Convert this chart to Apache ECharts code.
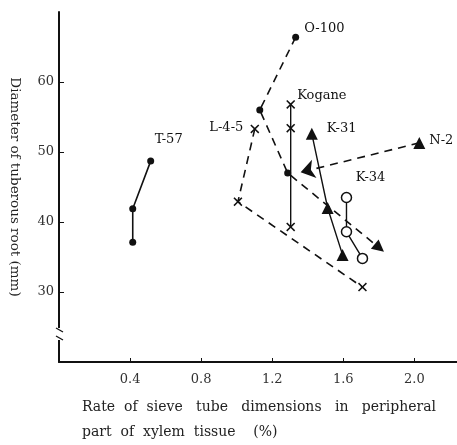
<!DOCTYPE html>
<html>
<head>
<meta charset="utf-8">
<script src="https://cdn.jsdelivr.net/npm/echarts@6/dist/echarts.min.js"></script>
<style>
html,body{margin:0;padding:0;background:#fff;}
#c{width:457px;height:445px;}
</style>
</head>
<body>
<div id="c"></div>
<script>
// ---- data (x: rate %, y: diameter mm) ----
const xTicks = [0.4, 0.8, 1.2, 1.6, 2.0];
const yTicks = [30, 40, 50, 60];
const t57    = [[0.415, 37.1], [0.415, 41.9], [0.516, 48.7]];
const o100   = [[1.332, 66.4], [1.130, 56.0], [1.287, 47.0], [1.803, 36.3]];
const kogane = [[1.304, 39.3], [1.304, 53.4], [1.304, 56.8]];
const l45    = [[1.102, 53.3], [1.007, 42.9], [1.708, 30.7]];
const k31    = [[1.423, 52.6], [1.512, 42.0], [1.596, 35.3]];
const k34    = [[1.618, 43.5], [1.618, 38.6], [1.708, 34.8]];
const n2     = [[2.028, 51.3], [1.360, 47.1]];

const FONT = 'DejaVu Serif';
const INK = '#111';
const XMARK = 'path://M0,1.2L1.2,0L5,3.8L8.8,0L10,1.2L6.2,5L10,8.8L8.8,10L5,6.2L1.2,10L0,8.8L3.8,5Z';
const lbl = (text, extra) => Object.assign({show: true, formatter: text, color: INK, fontFamily: FONT, fontSize: 13}, extra);

function pts(arr, opts) {
  return arr.map((p, i) => {
    const o = {value: p};
    if (opts && opts[i]) Object.assign(o, opts[i]);
    return o;
  });
}

const base = {type: 'line', symbolKeepAspect: true, animation: false, z: 3,
  itemStyle: {color: INK}, emphasis: {disabled: true}};

const chart = echarts.init(document.getElementById('c'));
chart.setOption({
  animation: false,
  grid: {left: 59, right: 0, top: 12, bottom: 83, containLabel: false, outerBoundsMode: 'none'},
  xAxis: {
    type: 'value', min: 0, max: 2.24, interval: 0.4,
    splitLine: {show: false},
    axisLine: {lineStyle: {color: INK, width: 2}},
    axisTick: {show: true, inside: true, length: 4, customValues: xTicks, lineStyle: {color: INK}},
    axisLabel: {customValues: xTicks, margin: 11, color: '#333', fontFamily: FONT, fontSize: 13,
      formatter: v => v.toFixed(1)}
  },
  yAxis: {
    type: 'value', min: 20, max: 70, interval: 10,
    splitLine: {show: false},
    axisLine: {lineStyle: {color: INK, width: 2}},
    axisTick: {show: true, inside: true, length: 5, customValues: yTicks, lineStyle: {color: INK}},
    axisLabel: {customValues: yTicks, margin: 5, color: '#333', fontFamily: FONT, fontSize: 13},
    name: 'Diameter of tuberous root (mm)', nameLocation: 'middle', nameRotate: -90, nameGap: 38,
    nameTextStyle: {fontFamily: FONT, fontSize: 13.5, color: '#222'}
  },
  series: [
    Object.assign({}, base, {name: 'T-57', data: pts(t57, {2: {label: lbl('T-57', {position: 'top', offset: [18, -6]})}}),
      symbol: 'circle', symbolSize: 7, lineStyle: {color: INK, width: 1.6}}),
    Object.assign({}, base, {name: 'O-100', data: pts(o100, {
        0: {label: lbl('O-100', {position: 'right', distance: 5, offset: [0, -9]})},
        3: {symbol: 'triangle', symbolSize: 12, symbolRotate: -130}}),
      symbol: 'circle', symbolSize: 7, lineStyle: {color: INK, width: 1.6, type: [8, 6]}}),
    Object.assign({}, base, {name: 'Kogane', data: pts(kogane, {2: {label: lbl('Kogane', {position: 'right', distance: 2, offset: [0, -9]})}}),
      symbol: XMARK, symbolSize: 9, lineStyle: {color: INK, width: 1.4}}),
    Object.assign({}, base, {name: 'L-4-5', data: pts(l45, {0: {label: lbl('L-4-5', {position: 'left', distance: 7, offset: [0, -1]})}}),
      symbol: XMARK, symbolSize: 9, lineStyle: {color: INK, width: 1.6, type: [8, 6]}}),
    Object.assign({}, base, {name: 'K-31', data: pts(k31, {0: {label: lbl('K-31', {position: 'right', distance: 9, offset: [0, -5]})}}),
      symbol: 'triangle', symbolSize: 12, lineStyle: {color: INK, width: 1.4}}),
    Object.assign({}, base, {name: 'K-34', data: pts(k34, {0: {label: lbl('K-34', {position: 'top', distance: 8, offset: [24, 0]})}}),
      symbol: 'circle', symbolSize: 10, itemStyle: {color: '#fff', borderColor: INK, borderWidth: 1.5},
      lineStyle: {color: INK, width: 1.4}}),
    Object.assign({}, base, {name: 'N-2', data: pts(n2, {
        0: {label: lbl('N-2', {position: 'right', distance: 4, offset: [0, -2]})},
        1: {symbol: 'arrow', symbolSize: 14, symbolRotate: 104}}),
      symbol: 'triangle', symbolSize: 12, lineStyle: {color: INK, width: 1.6, type: [8, 6]}})
  ]
});

// axis break mark and x-axis title
const bp = chart.convertToPixel({gridIndex: 0}, [0, 24]);
const x0 = bp[0], y0 = bp[1];
chart.setOption({
  graphic: [
    {type: 'rect', shape: {x: x0 - 4, y: y0 - 6, width: 8, height: 12}, style: {fill: '#fff'}, z: 10},
    {type: 'line', shape: {x1: x0 - 3, y1: y0 - 6, x2: x0 + 4, y2: y0 - 2}, style: {stroke: INK, lineWidth: 1.3}, z: 11},
    {type: 'line', shape: {x1: x0 - 3, y1: y0 + 2, x2: x0 + 4, y2: y0 + 6}, style: {stroke: INK, lineWidth: 1.3}, z: 11},
    {type: 'text', left: 82, top: 400, style: {text: 'Rate  of  sieve   tube   dimensions   in   peripheral', fill: '#222', font: '14px "DejaVu Serif"'}},
    {type: 'text', left: 82, top: 425, style: {text: 'part  of  xylem  tissue    (%)', fill: '#222', font: '14px "DejaVu Serif"'}}
  ]
});
</script>
</body>
</html>
